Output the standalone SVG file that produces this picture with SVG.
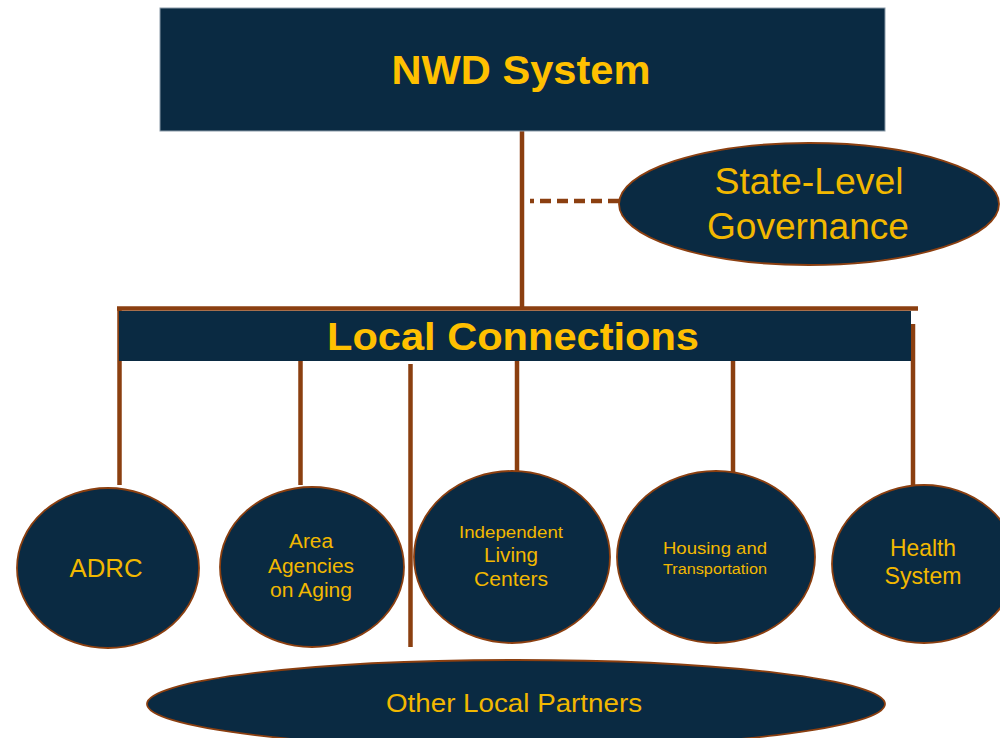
<svg xmlns="http://www.w3.org/2000/svg" width="1000" height="738" viewBox="0 0 1000 738">
<style>
.box{fill:#0a2a42;}
.ell{fill:#0a2a42;stroke:#8b3f10;stroke-width:1.8;}
.conn{stroke:#8b3f10;stroke-width:4.5;fill:none;}
.t{font-family:"Liberation Sans",Arial,sans-serif;fill:#f2b800;text-anchor:middle;}
.b{font-weight:bold;fill:#ffc000;}
</style>
<rect width="1000" height="738" fill="#ffffff"/>
<g id="connectors">
<line class="conn" x1="522" y1="131" x2="522" y2="309"/>
<line class="conn" x1="530" y1="201" x2="620" y2="201" stroke-dasharray="4 6 11 6 11 6 11 6 11 6 11 6"/>
<line class="conn" x1="117" y1="308.5" x2="918" y2="308.5"/>
<line class="conn" x1="119.5" y1="310" x2="119.5" y2="485"/>
<line class="conn" x1="300.5" y1="361" x2="300.5" y2="485"/>
<line class="conn" x1="410.5" y1="364" x2="410.5" y2="647"/>
<line class="conn" x1="517" y1="361" x2="517" y2="471"/>
<line class="conn" x1="733" y1="361" x2="733" y2="488"/>
<line class="conn" x1="913" y1="324" x2="913" y2="485"/>
</g>
<g id="nwd">
<rect class="box" x="160" y="8" width="725" height="123" stroke="#8a9aa8" stroke-width="1"/>
<text class="t b" x="521" y="84" font-size="40" textLength="259" lengthAdjust="spacingAndGlyphs">NWD System</text>
</g>
<g id="state">
<ellipse class="ell" cx="809" cy="204" rx="190" ry="61"/>
<text class="t" x="809" y="194" font-size="36" textLength="189" lengthAdjust="spacingAndGlyphs">State-Level</text>
<text class="t" x="808" y="239" font-size="36" textLength="202" lengthAdjust="spacingAndGlyphs">Governance</text>
</g>
<g id="local">
<rect class="box" x="119" y="311" width="792" height="50"/>
<text class="t b" x="513" y="350" font-size="39" textLength="372" lengthAdjust="spacingAndGlyphs">Local Connections</text>
</g>
<g id="adrc">
<ellipse class="ell" cx="108" cy="568" rx="91" ry="80"/>
<text class="t" x="106" y="577" font-size="26" textLength="73" lengthAdjust="spacingAndGlyphs">ADRC</text>
</g>
<g id="aaa">
<ellipse class="ell" cx="312" cy="567" rx="92" ry="80"/>
<text class="t" x="311" y="548" font-size="20" textLength="44" lengthAdjust="spacingAndGlyphs">Area</text>
<text class="t" x="311" y="573" font-size="20" textLength="86" lengthAdjust="spacingAndGlyphs">Agencies</text>
<text class="t" x="311" y="597" font-size="20" textLength="82" lengthAdjust="spacingAndGlyphs">on Aging</text>
</g>
<g id="other">
<ellipse class="ell" cx="516" cy="704" rx="369" ry="44"/>
<text class="t" x="514" y="712" font-size="26" textLength="256" lengthAdjust="spacingAndGlyphs">Other Local Partners</text>
</g>
<g id="ilc">
<ellipse class="ell" cx="512" cy="557" rx="98" ry="86"/>
<text class="t" x="511" y="538" font-size="17" textLength="104" lengthAdjust="spacingAndGlyphs">Independent</text>
<text class="t" x="511" y="562" font-size="20" textLength="54" lengthAdjust="spacingAndGlyphs">Living</text>
<text class="t" x="511" y="586" font-size="20" textLength="74" lengthAdjust="spacingAndGlyphs">Centers</text>
</g>
<g id="housing">
<ellipse class="ell" cx="716" cy="557" rx="99" ry="86"/>
<text class="t" x="715" y="554" font-size="17" textLength="104" lengthAdjust="spacingAndGlyphs">Housing and</text>
<text class="t" x="715" y="574" font-size="14" textLength="104" lengthAdjust="spacingAndGlyphs">Transportation</text>
</g>
<g id="health">
<ellipse class="ell" cx="924" cy="564" rx="92" ry="79"/>
<text class="t" x="923" y="556" font-size="24" textLength="66" lengthAdjust="spacingAndGlyphs">Health</text>
<text class="t" x="923" y="584" font-size="24" textLength="77" lengthAdjust="spacingAndGlyphs">System</text>
</g>
</svg>
